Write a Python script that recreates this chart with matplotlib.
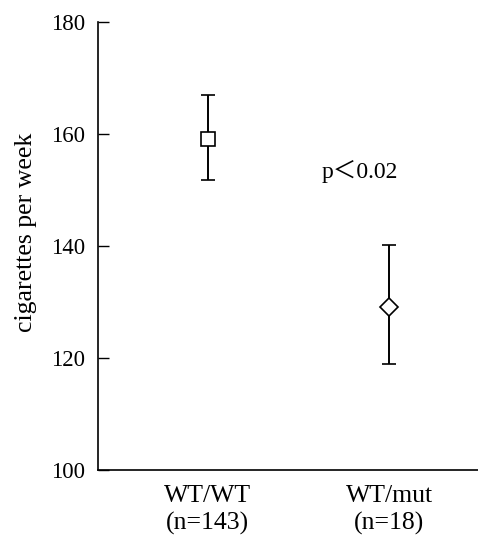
import matplotlib
matplotlib.use("Agg")
import matplotlib.pyplot as plt

groups = ["WT/WT\n(n=143)", "WT/mut\n(n=18)"]
means = [159, 129]
lower = [151.7, 118.9]
upper = [167, 140.2]
markers = ["s", "D"]
marker_sizes = [9.5, 9]

plt.rcParams["font.family"] = ["Liberation Serif", "Noto Sans CJK JP", "DejaVu Serif"]

fig = plt.figure(figsize=(4.78, 5.35), dpi=100)
ax = fig.add_axes([0.205, 0.1215, 0.795, 0.838])

for i in range(len(groups)):
    err = [[means[i] - lower[i]], [upper[i] - means[i]]]
    ax.errorbar([i], [means[i]], yerr=err, fmt=markers[i], color="black",
                mfc="white", mec="black", ms=marker_sizes[i], mew=1.2,
                ecolor="black", elinewidth=1.4, capsize=5, capthick=1.6)

ax.text(0.84, 153.2, "p＜0.02", fontsize=17, ha="center", va="center")

ax.set_xlim(-0.604, 1.49)
ax.set_ylim(100, 180)
ax.set_yticks([100, 120, 140, 160, 180])
ax.set_xticks([0, 1])
ax.set_xticklabels(groups, fontsize=18.5, linespacing=1.25)
ax.tick_params(axis="x", length=0, pad=11)
ax.tick_params(axis="y", direction="in", length=8, width=1, labelsize=16.5, pad=9)
ax.set_ylabel("cigarettes per week", fontsize=18.5, labelpad=10, y=0.53)

ax.spines["top"].set_visible(False)
ax.spines["right"].set_visible(False)
ax.spines["left"].set_linewidth(1.2)
ax.spines["bottom"].set_linewidth(1.2)

fig.savefig("out.png", dpi=100)
